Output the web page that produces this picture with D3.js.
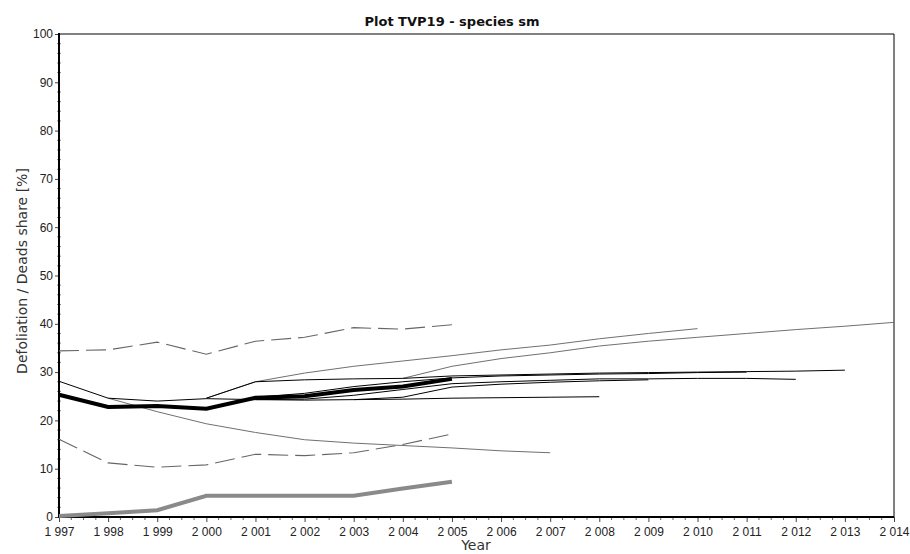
<!DOCTYPE html>
<html>
<head>
<meta charset="utf-8">
<script src="https://cdn.jsdelivr.net/npm/d3@7"></script>
<style>
  body { margin: 0; background: #fff; }
  text { font-family: "Liberation Sans", Arial, sans-serif; fill: #222; }
</style>
</head>
<body>
<div id="chart"></div>
<script>
var svgWidth = 910;
var svgHeight = 554;

var margin = { top: 34, right: 16, bottom: 37, left: 59 };
var width = svgWidth - margin.left - margin.right;
var height = svgHeight - margin.top - margin.bottom;

// tick values
var years = [1997, 1998, 1999, 2000, 2001, 2002, 2003, 2004, 2005, 2006, 2007, 2008, 2009, 2010, 2011, 2012, 2013, 2014];
var yTicks = [0, 10, 20, 30, 40, 50, 60, 70, 80, 90, 100];

// mean defoliation (thick black) and deads share (thick gray), 1997-2005
var meanStart = 1997;
var meanDefol = [25.3, 22.8, 23.0, 22.4, 24.7, 25.0, 26.3, 27.0, 28.6];
var deadsShare = [0.2, 0.8, 1.4, 4.4, 4.4, 4.4, 4.4, 5.9, 7.3];

// confidence band (dashed), 1997-2005
var bandUpper = [34.4, 34.6, 36.2, 33.7, 36.4, 37.2, 39.2, 38.9, 39.8];
var bandLower = [16.1, 11.2, 10.3, 10.8, 13.0, 12.7, 13.3, 15.0, 17.2];

// trend lines: start year + values
var trendL1Start = 1997;
var trendL1 = [28.1, 24.6, 24.0, 24.5, 24.3, 24.2, 24.3, 24.4, 24.6, 24.7, 24.8, 24.9];
var trendL2Start = 2000;
var trendL2 = [24.6, 28.0, 28.4, 28.6, 28.7, 29.2, 29.4, 29.6, 29.8, 29.9, 30.0, 30.1, 30.2, 30.4];
var trendL3Start = 2001;
var trendL3 = [24.8, 25.6, 27.0, 28.0, 28.8, 29.2, 29.4, 29.6, 29.7, 29.9, 30.0];
var trendL4Start = 2001;
var trendL4 = [24.3, 24.4, 25.2, 26.4, 27.6, 28.0, 28.3, 28.6, 28.6, 28.7, 28.7, 28.5];
var trendL5Start = 2003;
var trendL5 = [24.3, 24.8, 26.9, 27.5, 27.9, 28.2, 28.4];

var trendG1Start = 1998;
var trendG1 = [24.6, 21.8, 19.3, 17.5, 16.0, 15.3, 14.8, 14.3, 13.7, 13.3];
var trendG2Start = 2000;
var trendG2 = [24.6, 28.0, 29.8, 31.2, 32.3, 33.4, 34.6, 35.6, 36.9, 38.0, 39.0];
var trendG3Start = 2004;
var trendG3 = [28.7, 31.2, 32.8, 34.0, 35.4, 36.4, 37.2, 38.0, 38.8, 39.5, 40.3];

var svg = d3.select("#chart")
  .append("svg")
  .attr("width", svgWidth)
  .attr("height", svgHeight);

var Group = svg.append("g")
  .attr("transform", `translate(${margin.left}, ${margin.top})`);

var xScale = d3.scaleLinear().domain([1997, 2014]).range([0, width]);
var yScale = d3.scaleLinear().domain([0, 100]).range([height, 0]);

var fmtYear = d => d3.format(",")(d).replace(",", " ");

// minor ticks
var xMinor = d3.range(1997, 2014.001, 0.25).filter(v => !years.includes(v));
var yMinor = d3.range(0, 100.001, 2).filter(v => v % 10 !== 0);

Group.selectAll(".xminor")
  .data(xMinor)
  .enter()
  .append("line")
  .attr("x1", d => xScale(d)).attr("x2", d => xScale(d))
  .attr("y1", height).attr("y2", height + 3)
  .attr("stroke", "#666");

Group.selectAll(".yminor")
  .data(yMinor)
  .enter()
  .append("line")
  .attr("x1", -2).attr("x2", 2)
  .attr("y1", d => yScale(d)).attr("y2", d => yScale(d))
  .attr("stroke", "#888");

// axes
var xAxis = d3.axisBottom(xScale).tickValues(years).tickFormat(fmtYear).tickSize(5).tickPadding(5);
var yAxis = d3.axisLeft(yScale).tickValues(yTicks).tickSize(4).tickPadding(2);

var gx = Group.append("g")
  .attr("transform", `translate(0, ${height})`)
  .call(xAxis);
var gy = Group.append("g").call(yAxis);

[gx, gy].forEach(function(g) {
  g.select(".domain").remove();
  g.selectAll(".tick line").attr("stroke", "#444");
  g.selectAll(".tick text")
    .attr("font-family", "Liberation Sans, Arial, sans-serif")
    .attr("font-size", "12px")
    .attr("fill", "#222");
});

// frame
Group.append("line")
  .attr("x1", 0).attr("x2", width).attr("y1", 0).attr("y2", 0)
  .attr("stroke", "#808080").attr("stroke-width", 2);
Group.append("line")
  .attr("x1", width).attr("x2", width).attr("y1", 0).attr("y2", height)
  .attr("stroke", "#000").attr("stroke-width", 1);
Group.append("line")
  .attr("x1", 0).attr("x2", 0).attr("y1", -1).attr("y2", height + 1)
  .attr("stroke", "#000").attr("stroke-width", 2);
Group.append("line")
  .attr("x1", 0).attr("x2", width).attr("y1", height).attr("y2", height)
  .attr("stroke", "#000").attr("stroke-width", 2);

function lineFrom(start) {
  return d3.line()
    .x((d, i) => xScale(start + i))
    .y(d => yScale(d));
}

// thin trend lines
var grayThin = [[trendG1Start, trendG1], [trendG2Start, trendG2], [trendG3Start, trendG3]];
var blackThin = [[trendL1Start, trendL1], [trendL2Start, trendL2], [trendL3Start, trendL3],
                 [trendL4Start, trendL4], [trendL5Start, trendL5]];

grayThin.forEach(function(s) {
  Group.append("path")
    .datum(s[1])
    .attr("d", lineFrom(s[0]))
    .attr("fill", "none")
    .attr("stroke", "#707070")
    .attr("stroke-width", 1);
});

blackThin.forEach(function(s) {
  Group.append("path")
    .datum(s[1])
    .attr("d", lineFrom(s[0]))
    .attr("fill", "none")
    .attr("stroke", "#000")
    .attr("stroke-width", 1);
});

// dashed band
[bandUpper, bandLower].forEach(function(s) {
  Group.append("path")
    .datum(s)
    .attr("d", lineFrom(meanStart))
    .attr("fill", "none")
    .attr("stroke", "#666")
    .attr("stroke-width", 1.1)
    .attr("stroke-dasharray", "20,7");
});

// thick lines
Group.append("path")
  .datum(deadsShare)
  .attr("d", lineFrom(meanStart))
  .attr("fill", "none")
  .attr("stroke", "#8a8a8a")
  .attr("stroke-width", 4);

Group.append("path")
  .datum(meanDefol)
  .attr("d", lineFrom(meanStart))
  .attr("fill", "none")
  .attr("stroke", "#000")
  .attr("stroke-width", 4);

// title and axis labels
svg.append("text")
  .attr("x", 452)
  .attr("y", 26)
  .attr("text-anchor", "middle")
  .attr("font-family", "DejaVu Sans, sans-serif")
  .attr("font-size", "13px")
  .attr("font-weight", "bold")
  .style("fill", "#111")
  .style("font-family", "'DejaVu Sans', sans-serif")
  .text("Plot TVP19 - species sm");

svg.append("text")
  .attr("transform", "rotate(-90)")
  .attr("x", -271)
  .attr("y", 27)
  .attr("text-anchor", "middle")
  .attr("font-size", "14px")
  .style("font-family", "'DejaVu Sans', sans-serif")
  .style("fill", "#333")
  .text("Defoliation / Deads share [%]");

svg.append("text")
  .attr("x", 476)
  .attr("y", 550)
  .attr("text-anchor", "middle")
  .attr("font-size", "14px")
  .style("font-family", "'DejaVu Sans', sans-serif")
  .style("fill", "#333")
  .text("Year");
</script>
</body>
</html>
